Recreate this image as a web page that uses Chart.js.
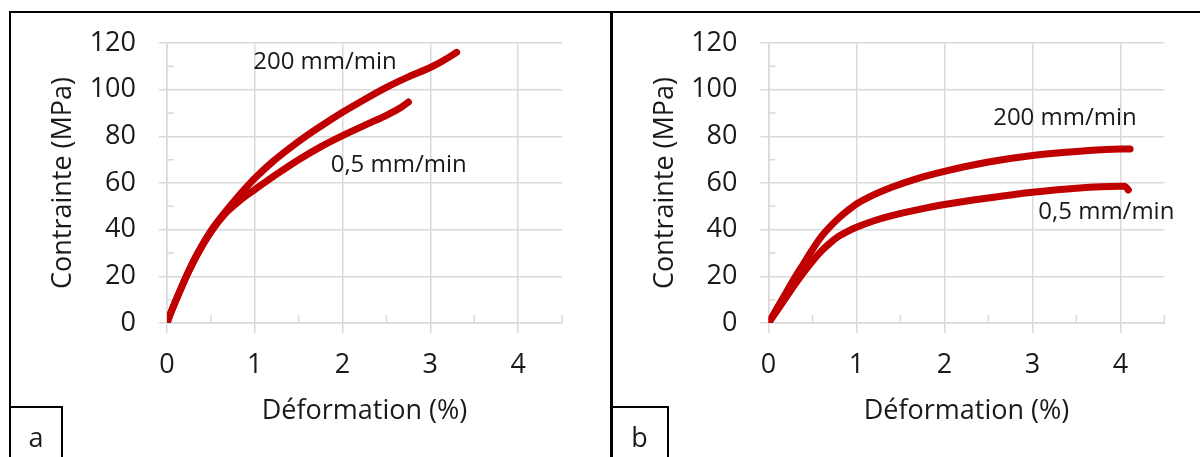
<!DOCTYPE html>
<html>
<head>
<meta charset="utf-8">
<script src="https://cdn.jsdelivr.net/npm/chart.js@4.4.1/dist/chart.umd.min.js"></script>
<style>
    body { margin: 0; background: #fff; width: 1200px; height: 457px; overflow: hidden; position: relative; font-family: 'Open Sans', sans-serif; }
    canvas { position: absolute; top: 0; }
    #chart-a { left: 0; }
    #chart-b { left: 611px; }
    .frame { position: absolute; left: 9px; top: 11px; width: 1300px; height: 500px; border: 2px solid #000; }
    .divider { position: absolute; left: 610px; top: 11px; width: 2.5px; height: 460px; background: #000; }
    .tag { position: absolute; top: 406px; height: 60px; border: 2px solid #000; font-size: 27px; color: #1a1a1a; text-align: center; line-height: 58px; box-sizing: border-box; }
    #tag-a { left: 9px; width: 54px; }
    #tag-b { left: 610px; width: 59px; }
</style>
</head>
<body>
<canvas id="chart-a" width="611" height="457"></canvas>
<canvas id="chart-b" width="589" height="457"></canvas>
<div class="frame"></div>
<div class="divider"></div>
<div class="tag" id="tag-a">a</div>
<div class="tag" id="tag-b">b</div>
<script>
// Data - panel a
const strainA200 = [0, 0.05, 0.15, 0.25, 0.35, 0.5, 0.65, 0.8, 0.9, 1.0, 1.2, 1.4, 1.6, 1.8, 2.0, 2.25, 2.5, 2.75, 3.0, 3.15, 3.3];
const stressA200 = [0, 5, 14, 22.5, 30, 39.5, 47, 53.8, 58, 62, 69, 75, 80.5, 85.5, 90.3, 95.8, 101, 105.5, 109.5, 112.5, 116];
const strainA05 = [0, 0.05, 0.15, 0.25, 0.35, 0.5, 0.65, 0.8, 0.9, 1.0, 1.25, 1.5, 1.75, 2.0, 2.25, 2.5, 2.65, 2.75];
const stressA05 = [0, 5, 14, 22.3, 29.7, 39, 46.3, 51.5, 54.5, 57.2, 63.8, 70, 75.5, 80.3, 84.7, 89, 92, 94.7];

// Data - panel b
const strainB200 = [0, 0.1, 0.2, 0.3, 0.4, 0.5, 0.6, 0.7, 0.8, 0.9, 1.0, 1.2, 1.4, 1.7, 2.0, 2.5, 3.0, 3.5, 4.0, 4.11];
const stressB200 = [0, 6.5, 13, 19.5, 25.5, 31.5, 37, 41.3, 45, 48.2, 51, 55, 58.2, 62, 65, 69, 71.8, 73.5, 74.6, 74.6];
const strainB05 = [0, 0.1, 0.2, 0.3, 0.4, 0.5, 0.6, 0.7, 0.8, 0.9, 1.0, 1.2, 1.4, 1.7, 2.0, 2.5, 3.0, 3.5, 4.0, 4.05, 4.09];
const stressB05 = [0, 5.5, 11, 16.5, 21.7, 26.5, 30.8, 34.3, 37.2, 39.3, 41, 43.8, 46, 48.6, 50.8, 53.6, 56, 57.8, 58.6, 58.6, 57];

// Axis tick labels
const xTickLabels = ['0', '1', '2', '3', '4'];
const yTickLabels = ['0', '20', '40', '60', '80', '100', '120'];
const seriesNames = ['200 mm/min', '0,5 mm/min'];

// Styles
const gridColor = '#d9d9d9';
const lineColor = '#c00000';
const textColor = '#1a1a1a';
const fontFamily = "'Open Sans', sans-serif";

function toPoints(xs, ys) {
    return xs.map((x, i) => ({ x: x, y: ys[i] }));
}

// Small inside ticks at the half steps (x) and odd tens (y)
const minorTicks = {
    id: 'minorTicks',
    beforeDatasetsDraw(chart) {
        const { ctx, scales: { x, y } } = chart;
        ctx.save();
        ctx.strokeStyle = gridColor;
        ctx.lineWidth = 1.5;
        ctx.beginPath();
        x.ticks.forEach(t => {
            if (!xTickLabels.includes(String(t.value))) {
                const px = x.getPixelForValue(t.value);
                ctx.moveTo(px, y.bottom);
                ctx.lineTo(px, y.bottom - 8);
            }
        });
        y.ticks.forEach(t => {
            if (!yTickLabels.includes(String(t.value))) {
                const py = y.getPixelForValue(t.value);
                ctx.moveTo(x.left, py);
                ctx.lineTo(x.left + 7, py);
            }
        });
        ctx.stroke();
        ctx.restore();
    }
};

// Text next to each curve
const curveLabels = {
    id: 'curveLabels',
    afterDatasetsDraw(chart, args, opts) {
        const { ctx, scales: { x, y } } = chart;
        ctx.save();
        ctx.font = '24px ' + fontFamily;
        ctx.fillStyle = textColor;
        ctx.textAlign = 'center';
        ctx.textBaseline = 'middle';
        opts.items.forEach(item => {
            ctx.fillText(item.text, x.getPixelForValue(item.x), y.getPixelForValue(item.y));
        });
        ctx.restore();
    }
};

function makeChart(canvasId, series, labelItems, pad, yWidth) {
    return new Chart(document.getElementById(canvasId), {
        type: 'line',
        data: {
            datasets: series.map((pts, i) => ({
                label: seriesNames[i],
                data: pts,
                borderColor: lineColor,
                borderWidth: 7,
                borderCapStyle: 'round',
                borderJoinStyle: 'round',
                pointRadius: 0,
                cubicInterpolationMode: 'monotone',
                fill: false
            }))
        },
        options: {
            responsive: false,
            animation: false,
            devicePixelRatio: 1,
            layout: { padding: pad },
            plugins: {
                legend: { display: false },
                tooltip: { enabled: false },
                curveLabels: { items: labelItems }
            },
            scales: {
                x: {
                    type: 'linear',
                    min: 0,
                    max: 4.5,
                    afterFit: s => { s.height = 105; },
                    ticks: {
                        stepSize: 0.5,
                        autoSkip: false,
                        maxRotation: 0,
                        padding: 16,
                        color: textColor,
                        font: { family: fontFamily, size: 27 },
                        callback: v => xTickLabels.includes(String(v)) ? String(v) : ''
                    },
                    grid: {
                        color: c => c.tick && xTickLabels.includes(String(c.tick.value)) ? gridColor : 'transparent',
                        tickColor: c => c.tick && xTickLabels.includes(String(c.tick.value)) ? gridColor : 'transparent',
                        lineWidth: 1.5,
                        tickLength: 10
                    },
                    border: { color: gridColor, width: 1.5 },
                    title: {
                        display: true,
                        text: 'Déformation (%)',
                        color: textColor,
                        padding: 0,
                        font: { family: fontFamily, size: 27 }
                    }
                },
                y: {
                    min: 0,
                    max: 120,
                    afterFit: s => { s.width = yWidth; },
                    ticks: {
                        stepSize: 10,
                        autoSkip: false,
                        padding: 23,
                        color: textColor,
                        font: { family: fontFamily, size: 27 },
                        callback: v => yTickLabels.includes(String(v)) ? String(v) : ''
                    },
                    grid: {
                        color: c => c.tick && yTickLabels.includes(String(c.tick.value)) ? gridColor : 'transparent',
                        tickColor: c => c.tick && yTickLabels.includes(String(c.tick.value)) ? gridColor : 'transparent',
                        lineWidth: 1.5,
                        tickLength: 8
                    },
                    border: { color: gridColor, width: 1.5 },
                    title: {
                        display: true,
                        text: 'Contrainte (MPa)',
                        color: textColor,
                        padding: 0,
                        font: { family: fontFamily, size: 27 }
                    }
                }
            }
        },
        plugins: [minorTicks, curveLabels]
    });
}

makeChart('chart-a',
    [toPoints(strainA200, stressA200), toPoints(strainA05, stressA05)],
    [
        { text: seriesNames[0], x: 1.80, y: 111.7 },
        { text: seriesNames[1], x: 2.64, y: 67.5 }
    ],
    { left: 47, top: 43, right: 49, bottom: 29 },
    120
);

makeChart('chart-b',
    [toPoints(strainB200, stressB200), toPoints(strainB05, stressB05)],
    [
        { text: seriesNames[0], x: 3.37, y: 88 },
        { text: seriesNames[1], x: 3.84, y: 47.3 }
    ],
    { left: 38, top: 43, right: 35.6, bottom: 29 },
    119.5
);
</script>
</body>
</html>
